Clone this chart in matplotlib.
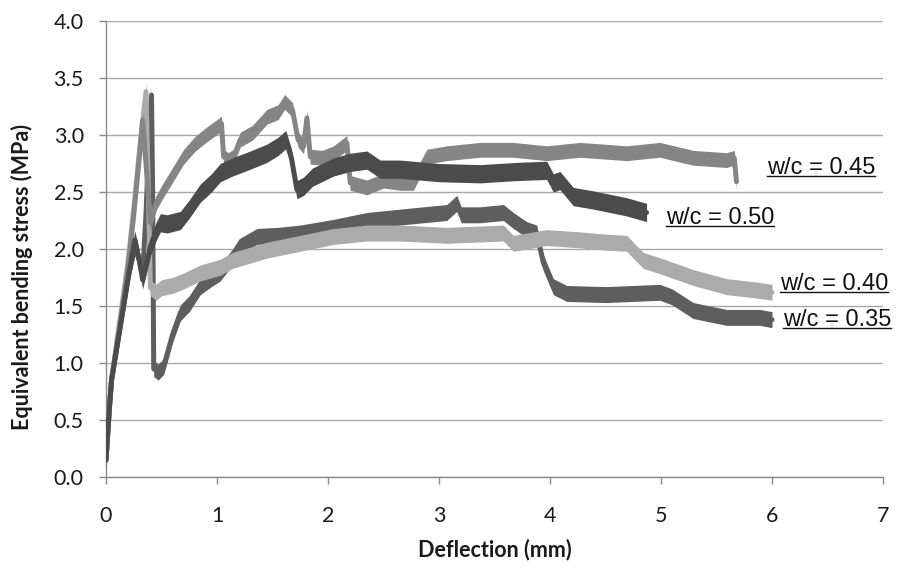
import numpy as np
import matplotlib
matplotlib.use("Agg")
import matplotlib.pyplot as plt
from matplotlib.lines import Line2D
from matplotlib.transforms import IdentityTransform

# deflection (mm) / equivalent bending stress (MPa)
x035 = [0, 0.03, 0.05, 0.10, 0.15, 0.20, 0.26, 0.30, 0.33, 0.36, 0.39, 0.41, 0.42, 0.43, 0.47, 0.52,
        0.60, 0.67, 0.75, 0.85, 0.95, 1.03, 1.14, 1.20, 1.36, 1.55, 1.75, 2.05, 2.35, 2.65, 3.07, 3.16,
        3.20, 3.37, 3.58, 3.67, 3.79, 3.88, 3.94, 4.03, 4.15, 4.50, 4.99, 5.10, 5.29, 5.59, 5.89, 6.00]
y035 = [0.15, 0.60, 0.85, 1.15, 1.45, 1.75, 2.02, 1.90, 1.78, 2.30, 3.00, 3.35, 2.50, 0.95, 0.92, 0.97,
        1.25, 1.44, 1.52, 1.67, 1.74, 1.79, 1.93, 2.02, 2.11, 2.12, 2.14, 2.19, 2.25, 2.28, 2.32, 2.40,
        2.30, 2.30, 2.32, 2.25, 2.17, 2.14, 1.88, 1.67, 1.61, 1.60, 1.62, 1.58, 1.46, 1.40, 1.40, 1.38]

x040 = [0, 0.03, 0.05, 0.10, 0.15, 0.20, 0.25, 0.30, 0.36, 0.38, 0.40, 0.45, 0.50, 0.60, 0.70, 0.85,
        1.03, 1.14, 1.45, 1.75, 2.05, 2.35, 2.65, 3.07, 3.58, 3.67, 3.97, 4.27, 4.50, 4.69, 4.84, 5.00,
        5.29, 5.59, 5.86, 6.00]
y040 = [0.15, 0.60, 0.85, 1.20, 1.55, 1.90, 2.35, 2.85, 3.38, 2.60, 1.66, 1.62, 1.66, 1.68, 1.72, 1.79,
        1.84, 1.90, 1.99, 2.05, 2.11, 2.14, 2.14, 2.12, 2.14, 2.05, 2.10, 2.08, 2.06, 2.05, 1.90, 1.85,
        1.75, 1.67, 1.64, 1.62]

x045 = [0, 0.03, 0.05, 0.10, 0.15, 0.20, 0.25, 0.30, 0.33, 0.36, 0.40, 0.45, 0.50, 0.60, 0.70, 0.80,
        0.90, 1.00, 1.04, 1.06, 1.10, 1.15, 1.21, 1.32, 1.45, 1.55, 1.61, 1.68, 1.73, 1.78, 1.81, 1.84,
        1.95, 2.05, 2.17, 2.20, 2.35, 2.50, 2.65, 2.77, 2.89, 3.07, 3.37, 3.67, 3.97, 4.27, 4.69, 4.99,
        5.29, 5.59, 5.66, 5.68]
y045 = [0.15, 0.60, 0.85, 1.18, 1.50, 1.85, 2.30, 2.80, 3.13, 2.75, 2.23, 2.40, 2.49, 2.65, 2.81, 2.92,
        3.00, 3.07, 3.10, 2.81, 2.78, 2.81, 2.96, 3.02, 3.16, 3.20, 3.29, 3.22, 2.96, 2.90, 3.15, 2.81,
        2.80, 2.84, 2.93, 2.58, 2.54, 2.60, 2.58, 2.58, 2.81, 2.84, 2.87, 2.87, 2.84, 2.87, 2.84, 2.87,
        2.80, 2.78, 2.80, 2.59]

x050 = [0, 0.03, 0.05, 0.10, 0.15, 0.20, 0.26, 0.30, 0.33, 0.36, 0.40, 0.45, 0.49, 0.55, 0.67, 0.75,
        0.85, 0.95, 1.03, 1.14, 1.30, 1.45, 1.55, 1.62, 1.67, 1.72, 1.78, 1.86, 2.05, 2.20, 2.35, 2.47,
        2.65, 3.00, 3.37, 3.70, 3.97, 4.03, 4.09, 4.21, 4.39, 4.69, 4.87]
y050 = [0.15, 0.60, 0.85, 1.15, 1.45, 1.75, 2.08, 1.90, 1.73, 1.85, 2.02, 2.15, 2.23, 2.22, 2.25, 2.35,
        2.49, 2.58, 2.67, 2.72, 2.78, 2.84, 2.90, 2.96, 2.80, 2.52, 2.55, 2.63, 2.72, 2.76, 2.78, 2.70,
        2.70, 2.67, 2.66, 2.68, 2.69, 2.58, 2.60, 2.46, 2.43, 2.37, 2.32]

labels = ["w/c = 0.35", "w/c = 0.40", "w/c = 0.45", "w/c = 0.50"]
yticks = [0.0, 0.5, 1.0, 1.5, 2.0, 2.5, 3.0, 3.5, 4.0]
xticks = [0, 1, 2, 3, 4, 5, 6, 7]

fig = plt.figure(figsize=(9.03, 5.70), dpi=100)
ax = fig.add_axes([106 / 903, 93 / 570, 777 / 903, 456 / 570])

# (x, y, colour, half-width of the noisy band in MPa), later series drawn on top
traces = [
    (x035, y035, "#5e5e5e", 0.07),
    (x040, y040, "#ababab", 0.07),
    (x045, y045, "#858585", 0.065),
    (x050, y050, "#4b4b4b", 0.08),
]
for z, (xs, ys, col, s) in enumerate(traces, start=2):
    ys = np.asarray(ys)
    ax.fill_between(xs, ys - s, ys + s, color=col, lw=0, zorder=z)
    ax.plot(xs, ys, color=col, lw=3.6, zorder=z,
            solid_joinstyle="round", solid_capstyle="round")

ax.set_xlim(0, 7)
ax.set_ylim(0, 4)
ax.set_xticks(xticks)
ax.set_xticklabels([str(v) for v in xticks])
ax.set_yticks(yticks)
ax.set_yticklabels([f"{v:.1f}" for v in yticks])
ax.yaxis.grid(True, color="#a8a8a8", lw=1.0)
ax.set_axisbelow(True)
for side in ("top", "right"):
    ax.spines[side].set_visible(False)
for side in ("left", "bottom"):
    ax.spines[side].set_color("#8a8a8a")
    ax.spines[side].set_linewidth(1.0)
ax.tick_params(axis="both", direction="out", length=5, width=1.0, color="#8a8a8a",
               labelsize=15.5, labelcolor="#1a1a1a")
ax.tick_params(axis="y", pad=11)
ax.tick_params(axis="x", pad=16)
for t in ax.get_xticklabels() + ax.get_yticklabels():
    t.set_family("Lato")

fig.text(495 / 903, 1 - 550 / 570, "Deflection (mm)", ha="center", va="center",
         fontsize=15.5, fontweight="bold", family="Lato", color="#1a1a1a")
fig.text(22 / 903, 1 - 277 / 570, "Equivalent bending stress (MPa)", ha="center", va="center",
         rotation=90, fontsize=15.5, fontweight="bold", family="Lato", color="#1a1a1a")

# curve labels to the right of each trace, underlined
label_pos = [(6.10, 1.38), (6.07, 1.69), (5.955, 2.71), (5.045, 2.27)]
texts = []
for lab, (lx, ly) in zip(labels, label_pos):
    texts.append(ax.text(lx, ly, lab, ha="left", va="center", fontsize=17,
                         family="Liberation Sans", color="#111111", clip_on=False, zorder=10))

fig.canvas.draw()
renderer = fig.canvas.get_renderer()
for t in texts:
    bb = t.get_window_extent(renderer)
    yl = bb.y0 + 3
    fig.add_artist(Line2D([bb.x0, bb.x1], [yl, yl], transform=IdentityTransform(),
                          color="#111111", lw=1.0))

fig.savefig("out.png", dpi=100)
